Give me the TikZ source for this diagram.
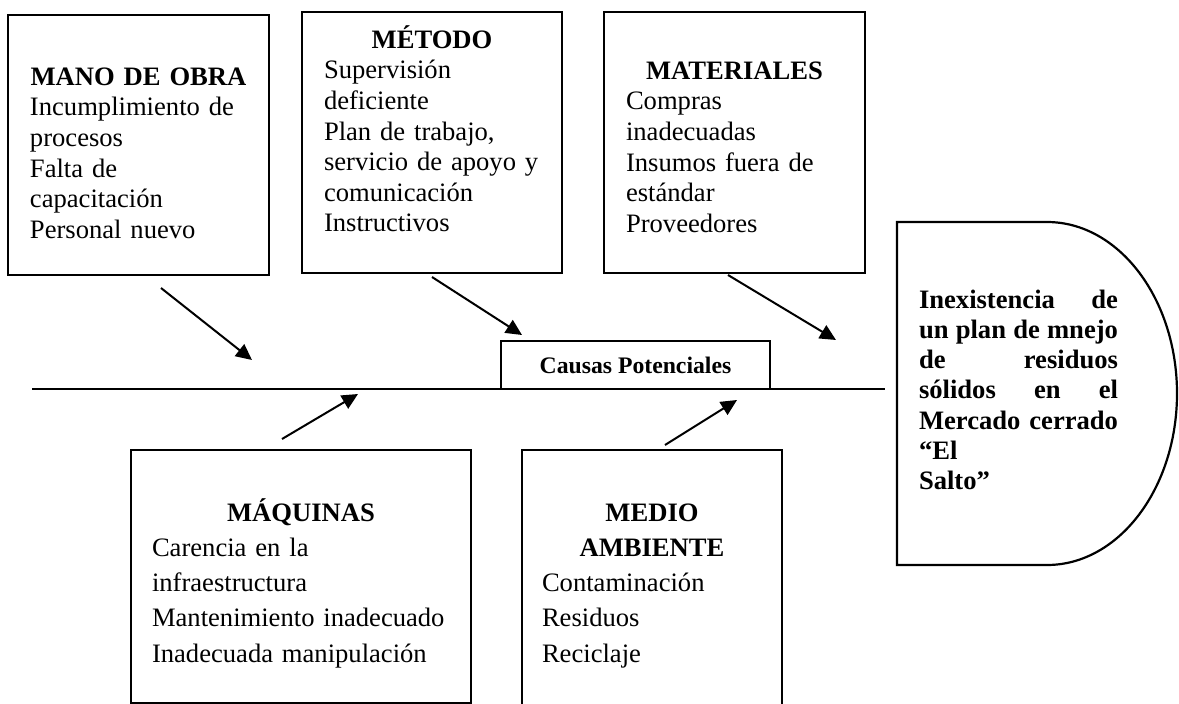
\documentclass[tikz,border=0pt]{standalone}
\usepackage{fontspec}
\setmainfont{Liberation Serif}
\usetikzlibrary{arrows.meta}
\begin{document}
\begin{tikzpicture}[x=1pt,y=1pt,
  boxstyle/.style={draw, rectangle, line width=2.2pt, inner sep=0pt},
  toptext/.style={inner sep=0pt, anchor=north, align=left, font=\fontsize{26.6}{30.6}\selectfont},
  bottext/.style={inner sep=0pt, anchor=north, align=left, font=\fontsize{26.6}{35.25}\selectfont},
  arr/.style={line width=2pt, -{Triangle[length=16pt,width=15pt]}}]
\useasboundingbox (0,0) rectangle (1179,-704);

% top boxes
\node[boxstyle, minimum width=261pt, minimum height=260pt] (mo) at (138.5,-145) {};
\node[toptext, text width=217pt] (motxt) at (138.5,-60) {\rule{0pt}{25pt}\makebox[217pt]{\bfseries MANO DE OBRA}\\Incumplimiento de\\procesos\\Falta de\\capacitación\\Personal nuevo};

\node[boxstyle, minimum width=260pt, minimum height=261pt] (me) at (432,-142.5) {};
\node[toptext, text width=216pt] (metxt) at (432,-23) {\rule{0pt}{25pt}\makebox[216pt]{\bfseries MÉTODO}\\Supervisión\\deficiente\\Plan de trabajo,\\servicio de apoyo y\\comunicación\\Instructivos};

\node[boxstyle, minimum width=261pt, minimum height=261pt] (ma) at (734.5,-142.5) {};
\node[toptext, text width=217pt] (matxt) at (734.5,-54) {\rule{0pt}{25pt}\makebox[217pt]{\bfseries MATERIALES}\\Compras\\inadecuadas\\Insumos fuera de\\estándar\\Proveedores};

% bottom boxes
\node[boxstyle, minimum width=340pt, minimum height=253pt] (mq) at (301,-576.5) {};
\node[bottext, text width=298pt] (mqtxt) at (301,-496) {\rule{0pt}{25pt}\makebox[298pt]{\bfseries MÁQUINAS}\\Carencia en la\\infraestructura\\Mantenimiento inadecuado\\Inadecuada manipulación};

\node[boxstyle, minimum width=260pt, minimum height=262pt] (amb) at (652,-581) {};
\node[bottext, text width=220pt] (ambtxt) at (652,-496) {\rule{0pt}{25pt}\makebox[220pt]{\bfseries MEDIO}\\\makebox[220pt]{\bfseries AMBIENTE}\\Contaminación\\Residuos\\Reciclaje};

% spine and label
\coordinate (sp1) at (32,-389);
\coordinate (sp2) at (885,-389);
\draw[line width=2pt] (sp1) -- (sp2);
\node[boxstyle, minimum width=269pt, minimum height=48pt, font=\bfseries\fontsize{23.7}{28}\selectfont] (cp) at (635.5,-365) {Causas Potenciales};

% effect shape
\draw[line width=2.2pt] (897,-222) -- (1047,-222) arc[start angle=90, end angle=-90, x radius=130, y radius=171.5] -- (897,-565) -- cycle;
\node[inner sep=0pt, anchor=north, align=left, text width=199pt, font=\bfseries\fontsize{26.6}{30.2}\selectfont] (eff) at (1018.5,-283) {\rule{0pt}{25pt}\makebox[199pt]{Inexistencia\hfill de}\\\makebox[199pt]{un\hfill plan\hfill de\hfill mnejo}\\\makebox[199pt]{de\hfill residuos}\\\makebox[199pt]{sólidos\hfill en\hfill el}\\\makebox[199pt]{Mercado\hfill cerrado}\\“El\\Salto”};

% arrows
\coordinate (a1s) at (161,-288); \coordinate (a1e) at (252,-360);
\coordinate (a2s) at (432,-277); \coordinate (a2e) at (522,-335);
\coordinate (a3s) at (728,-275); \coordinate (a3e) at (836,-340);
\coordinate (a4s) at (282,-439); \coordinate (a4e) at (358,-394);
\coordinate (a5s) at (665,-445); \coordinate (a5e) at (737,-400);
\draw[arr] (a1s) -- (a1e);
\draw[arr] (a2s) -- (a2e);
\draw[arr] (a3s) -- (a3e);
\draw[arr] (a4s) -- (a4e);
\draw[arr] (a5s) -- (a5e);
\end{tikzpicture}
\end{document}
